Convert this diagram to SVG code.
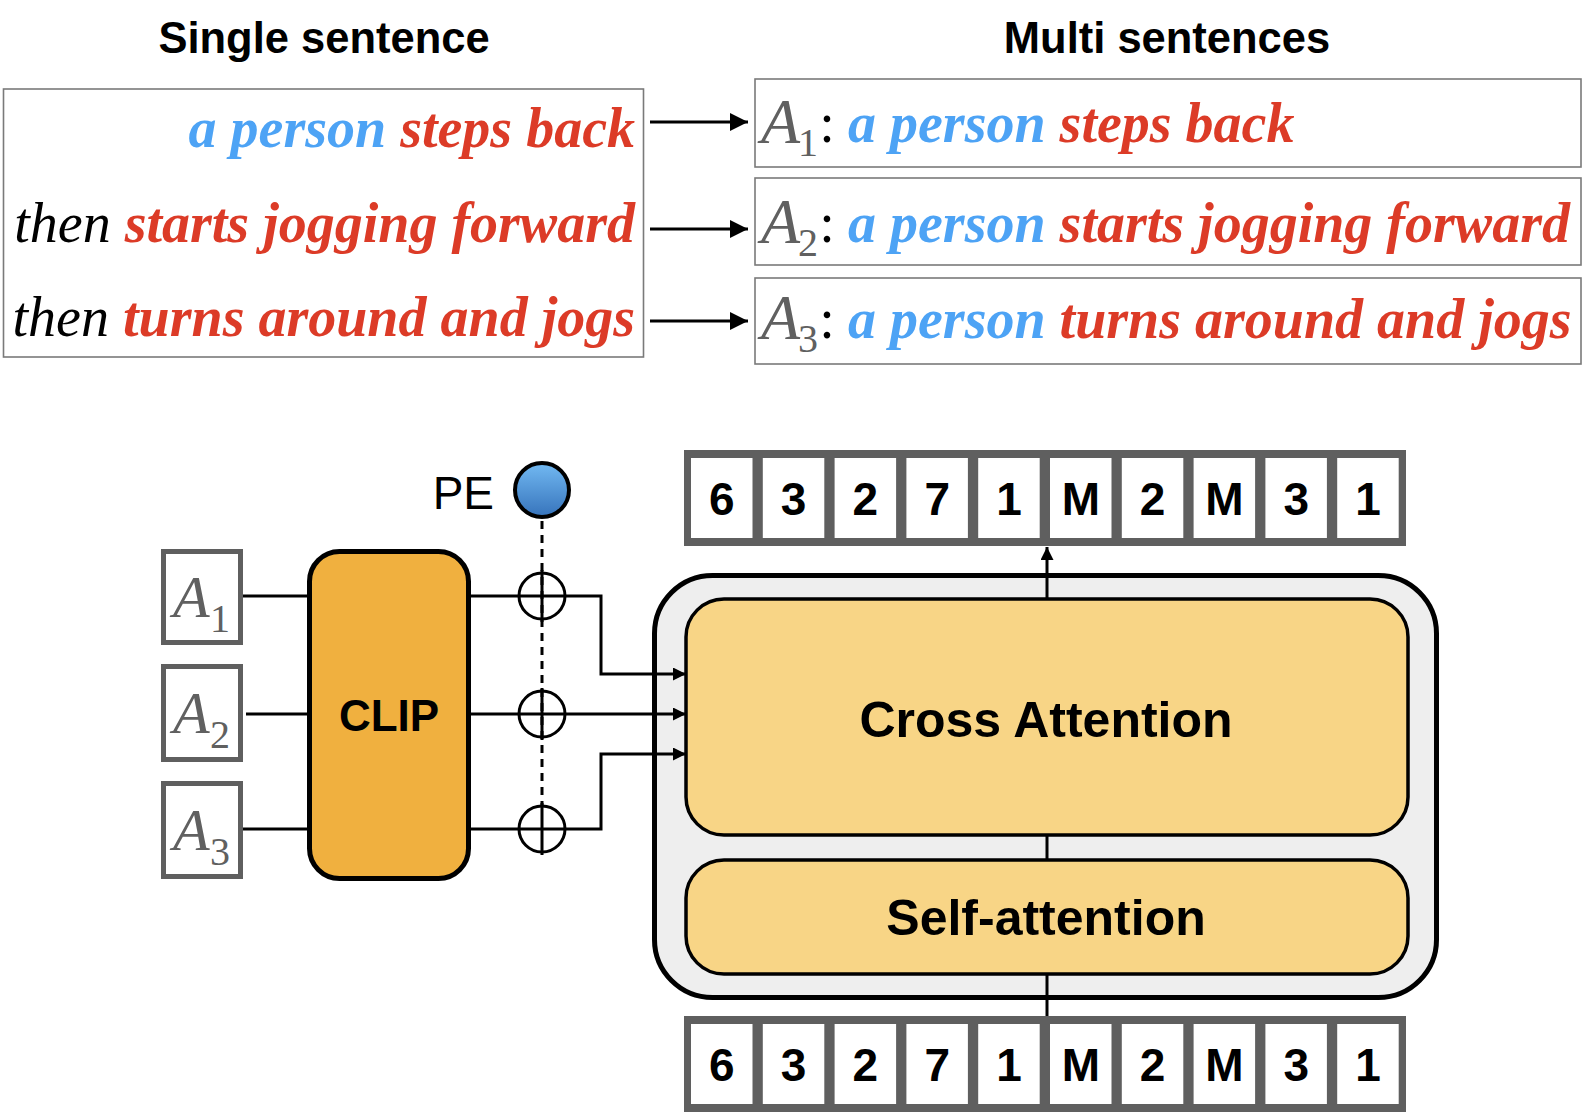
<svg xmlns="http://www.w3.org/2000/svg" width="1586" height="1114" viewBox="0 0 1586 1114">
<defs>
<style>
.hd{font-family:"Liberation Sans",Arial,sans-serif;font-weight:bold;font-size:43.5px;text-anchor:middle;fill:#000}
.sent{font-family:"Liberation Serif","Times New Roman",serif;font-style:italic;font-size:56px}
.b{fill:#4DA3F5;font-weight:bold}
.r{fill:#DC3B27;font-weight:bold}
.k{fill:#000;font-weight:normal}
.ag{font-family:"Liberation Serif","Times New Roman",serif;font-style:italic;fill:#606060}
.sub{font-family:"Liberation Serif","Times New Roman",serif;fill:#606060}
.col{font-family:"Liberation Serif","Times New Roman",serif;font-size:56px;fill:#000;text-anchor:middle}
.sbox{fill:#fff;stroke:#7a7a7a;stroke-width:1.6}
.abox{fill:#fff;stroke:#5f5f5f;stroke-width:5}
.ln{fill:none;stroke:#000;stroke-width:3}
.dig{font-family:"Liberation Sans",Arial,sans-serif;font-weight:bold;font-size:46px;text-anchor:middle;fill:#000}
.lbl{font-family:"Liberation Sans",Arial,sans-serif;font-weight:bold;font-size:50px;text-anchor:middle;fill:#000}
.frame{fill:#5f5f5f}
.cell{fill:#fff}
.att{fill:#F8D586;stroke:#000;stroke-width:3.5}
</style>
<marker id="arL" viewBox="0 0 10 10" refX="10" refY="5" markerWidth="18" markerHeight="18" markerUnits="userSpaceOnUse" orient="auto"><path d="M0,0 L10,5 L0,10 z" fill="#000"/></marker>
<marker id="arS" viewBox="0 0 10 10" refX="10" refY="5" markerWidth="14" markerHeight="13" markerUnits="userSpaceOnUse" orient="auto"><path d="M0,0 L10,5 L0,10 z" fill="#000"/></marker>
<linearGradient id="peg" x1="0" y1="0" x2="0" y2="1"><stop offset="0" stop-color="#72B9F2"/><stop offset="1" stop-color="#3673BB"/></linearGradient>
</defs>

<g id="headings">
<text class="hd" x="324" y="53">Single sentence</text>
<text class="hd" x="1167" y="53">Multi sentences</text>
</g>

<g id="single-sentence">
<rect class="sbox" x="3.5" y="89" width="640" height="268"/>
<text class="sent" x="635" y="147" text-anchor="end"><tspan class="b">a person </tspan><tspan class="r">steps back</tspan></text>
<text class="sent" x="635" y="242" text-anchor="end"><tspan class="k">then </tspan><tspan class="r">starts jogging forward</tspan></text>
<text class="sent" x="635" y="336" text-anchor="end"><tspan class="k">then </tspan><tspan class="r">turns around and jogs</tspan></text>
</g>

<g id="multi-1">
<rect class="sbox" x="755" y="79" width="826" height="88"/>
<text class="ag" x="761" y="143" font-size="64">A</text>
<text class="sub" x="798" y="156" font-size="40">1</text>
<text class="col" x="827" y="142">:</text>
<text class="sent" x="848" y="142"><tspan class="b">a person </tspan><tspan class="r">steps back</tspan></text>
</g>
<g id="multi-2">
<rect class="sbox" x="755" y="178" width="826" height="87"/>
<text class="ag" x="761" y="243" font-size="64">A</text>
<text class="sub" x="798" y="256" font-size="40">2</text>
<text class="col" x="827" y="242">:</text>
<text class="sent" x="848" y="242"><tspan class="b">a person </tspan><tspan class="r">starts jogging forward</tspan></text>
</g>
<g id="multi-3">
<rect class="sbox" x="755" y="278" width="826" height="86"/>
<text class="ag" x="761" y="339" font-size="64">A</text>
<text class="sub" x="798" y="352" font-size="40">3</text>
<text class="col" x="827" y="338">:</text>
<text class="sent" x="848" y="338"><tspan class="b">a person </tspan><tspan class="r">turns around and jogs</tspan></text>
</g>

<g id="a1">
<rect class="abox" x="163.5" y="551.5" width="77" height="91"/>
<text class="ag" x="173" y="617" font-size="60">A</text>
<text class="sub" x="210" y="632" font-size="40">1</text>
</g>
<g id="a2">
<rect class="abox" x="163.5" y="666.5" width="77" height="93"/>
<text class="ag" x="173" y="733" font-size="60">A</text>
<text class="sub" x="210" y="748" font-size="40">2</text>
</g>
<g id="a3">
<rect class="abox" x="163.5" y="783.5" width="77" height="93"/>
<text class="ag" x="173" y="850" font-size="60">A</text>
<text class="sub" x="210" y="865" font-size="40">3</text>
</g>

<g id="clip">
<rect x="309.5" y="551.5" width="159" height="327" rx="30" fill="#F0B03F" stroke="#000" stroke-width="5"/>
<text x="389" y="731" font-family="Liberation Sans, Arial, sans-serif" font-weight="bold" font-size="44" text-anchor="middle">CLIP</text>
</g>

<g id="pe">
<text x="494" y="509" font-family="Liberation Sans, Arial, sans-serif" font-size="46" text-anchor="end">PE</text>
<circle cx="542" cy="490" r="27" fill="url(#peg)" stroke="#000" stroke-width="4"/>
</g>

<g id="container">
<rect x="654.5" y="575.5" width="782" height="422" rx="58" fill="#EEEEEE" stroke="#000" stroke-width="5"/>
</g>

<g id="connectors">
<line class="ln" x1="650" y1="122" x2="748" y2="122" marker-end="url(#arL)"/>
<line class="ln" x1="650" y1="229" x2="748" y2="229" marker-end="url(#arL)"/>
<line class="ln" x1="650" y1="321" x2="748" y2="321" marker-end="url(#arL)"/>
<path class="ln" d="M243,596 H309"/>
<path class="ln" d="M246,714 H309"/>
<path class="ln" d="M243,829 H309"/>
<path class="ln" d="M542,521 V806" stroke-width="3.5" stroke-dasharray="8 6"/>
<path class="ln" d="M471,596 H601 V674 H686" marker-end="url(#arS)"/>
<path class="ln" d="M471,714 H686" marker-end="url(#arS)"/>
<path class="ln" d="M471,829 H601 V754 H686" marker-end="url(#arS)"/>
<path class="ln" d="M542,570 V622 M542,688 V740 M542,803 V855"/>
<path class="ln" d="M1047,599 V547" marker-end="url(#arS)"/>
<path class="ln" d="M1047,835 V860"/>
<path class="ln" d="M1047,974 V1016"/>
</g>

<g id="plus">
<circle class="ln" cx="542" cy="596" r="23"/>
<circle class="ln" cx="542" cy="714" r="23"/>
<circle class="ln" cx="542" cy="829" r="23"/>
</g>

<g id="cross-attention">
<rect class="att" x="686" y="599" width="722" height="236" rx="38"/>
<text class="lbl" x="1046" y="737">Cross Attention</text>
</g>
<g id="self-attention">
<rect class="att" x="686" y="860" width="722" height="114" rx="38"/>
<text class="lbl" x="1046" y="935">Self-attention</text>
</g>

<g id="tokens-out">
<rect class="frame" x="684" y="450" width="722" height="96"/>
<rect class="cell" x="691" y="458" width="61.5" height="80"/>
<rect class="cell" x="762.8" y="458" width="61.5" height="80"/>
<rect class="cell" x="834.6" y="458" width="61.5" height="80"/>
<rect class="cell" x="906.4" y="458" width="61.5" height="80"/>
<rect class="cell" x="978.2" y="458" width="61.5" height="80"/>
<rect class="cell" x="1050" y="458" width="61.5" height="80"/>
<rect class="cell" x="1121.8" y="458" width="61.5" height="80"/>
<rect class="cell" x="1193.6" y="458" width="61.5" height="80"/>
<rect class="cell" x="1265.4" y="458" width="61.5" height="80"/>
<rect class="cell" x="1337.2" y="458" width="61.5" height="80"/>
<text class="dig" y="515"><tspan x="721.8">6</tspan><tspan x="793.6">3</tspan><tspan x="865.4">2</tspan><tspan x="937.2">7</tspan><tspan x="1009">1</tspan><tspan x="1080.8">M</tspan><tspan x="1152.6">2</tspan><tspan x="1224.4">M</tspan><tspan x="1296.2">3</tspan><tspan x="1368">1</tspan></text>
</g>

<g id="tokens-in">
<rect class="frame" x="684" y="1016" width="722" height="96"/>
<rect class="cell" x="691" y="1024" width="61.5" height="80"/>
<rect class="cell" x="762.8" y="1024" width="61.5" height="80"/>
<rect class="cell" x="834.6" y="1024" width="61.5" height="80"/>
<rect class="cell" x="906.4" y="1024" width="61.5" height="80"/>
<rect class="cell" x="978.2" y="1024" width="61.5" height="80"/>
<rect class="cell" x="1050" y="1024" width="61.5" height="80"/>
<rect class="cell" x="1121.8" y="1024" width="61.5" height="80"/>
<rect class="cell" x="1193.6" y="1024" width="61.5" height="80"/>
<rect class="cell" x="1265.4" y="1024" width="61.5" height="80"/>
<rect class="cell" x="1337.2" y="1024" width="61.5" height="80"/>
<text class="dig" y="1081"><tspan x="721.8">6</tspan><tspan x="793.6">3</tspan><tspan x="865.4">2</tspan><tspan x="937.2">7</tspan><tspan x="1009">1</tspan><tspan x="1080.8">M</tspan><tspan x="1152.6">2</tspan><tspan x="1224.4">M</tspan><tspan x="1296.2">3</tspan><tspan x="1368">1</tspan></text>
</g>
</svg>
